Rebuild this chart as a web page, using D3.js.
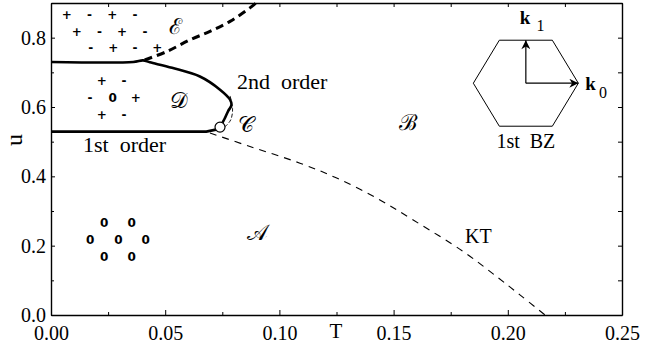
<!DOCTYPE html>
<html>
<head>
<meta charset="utf-8">
<script src="https://cdn.jsdelivr.net/npm/d3@7"></script>
<style>
  body { margin: 0; background: #fff; }
  svg { display: block; }
  .axis text { font-family: "Liberation Serif", serif; font-size: 20px; fill: #000; }
  .axis path, .axis line { stroke: #000; }
</style>
</head>
<body>
<div id="chart"></div>
<script>
// axis ticks
const xTicks = [0, 0.05, 0.10, 0.15, 0.20, 0.25];
const xMinorTicks = [0.025, 0.075, 0.125, 0.175, 0.225];
const yTicks = [0.0, 0.2, 0.4, 0.6, 0.8];
const yMinorTicks = [0.1, 0.3, 0.5, 0.7];

// phase boundaries (T, u)
const firstOrderLower = [[0, 0.529], [0.068, 0.529], [0.0722, 0.535]];
const firstOrderUpper = [[0, 0.730], [0.036, 0.730], [0.0403, 0.7345], [0.0433, 0.729],
  [0.0530, 0.713], [0.0652, 0.688], [0.0740, 0.650], [0.0784, 0.621], [0.0790, 0.605],
  [0.0776, 0.589], [0.0760, 0.566], [0.0740, 0.542]];
const noseDashed = [[0.0784, 0.632], [0.0795, 0.595], [0.0787, 0.563], [0.0762, 0.543]];
const ktLine = [[0.0696, 0.525], [0.0871, 0.486], [0.1090, 0.438], [0.1251, 0.395],
  [0.1426, 0.337], [0.1586, 0.274], [0.1805, 0.183], [0.1951, 0.111], [0.2053, 0.058],
  [0.2163, 0.0]];
const eBoundary = [[0.0410, 0.736], [0.0507, 0.760], [0.0609, 0.794], [0.0696, 0.818],
  [0.0784, 0.847], [0.0871, 0.886], [0.0898, 0.900]];
const criticalPoint = [0.074, 0.542];

// region labels
const regionLabels = [
  { t: 0.0547, u: 0.832, text: 'ℰ' },
  { t: 0.0560, u: 0.618, text: '𝒟' },
  { t: 0.0854, u: 0.549, text: '𝒞' },
  { t: 0.1563, u: 0.555, text: 'ℬ' },
  { t: 0.0902, u: 0.240, text: '𝒜' }
];
const lineLabels = [
  { t: 0.0814, u: 0.653, text: '2nd\u00a0\u00a0order' },
  { t: 0.0140, u: 0.471, text: '1st\u00a0\u00a0order' },
  { t: 0.1813, u: 0.208, text: 'KT' }
];

// order-parameter patterns
const patternE = [
  [0.0069, 0.866, '+'], [0.0168, 0.866, '-'], [0.0268, 0.866, '+'], [0.0368, 0.866, '-'],
  [0.0113, 0.818, '+'], [0.0212, 0.818, '-'], [0.0311, 0.818, '+'], [0.0412, 0.818, '-'],
  [0.0174, 0.770, '-'], [0.0273, 0.770, '+'], [0.0368, 0.770, '-'], [0.0465, 0.770, '+']
];
const patternD = [
  [0.0222, 0.676, '+'], [0.0320, 0.676, '-'],
  [0.0171, 0.626, '-'], [0.0270, 0.626, '0'], [0.0371, 0.626, '+'],
  [0.0222, 0.578, '+'], [0.0320, 0.578, '-']
];
const patternA = [
  [0.0233, 0.267, '0'], [0.0353, 0.267, '0'],
  [0.0171, 0.217, '0'], [0.0295, 0.217, '0'], [0.0415, 0.217, '0'],
  [0.0233, 0.168, '0'], [0.0353, 0.168, '0']
];

// Brillouin zone inset centre (T, u)
const bzCenter = [0.2079, 0.6686];

const width = 664, height = 351;
const margin = { top: 3, right: 42, bottom: 36, left: 51 };

const svg = d3.select('#chart').append('svg')
  .attr('width', width)
  .attr('height', height);

const x = d3.scaleLinear().domain([0, 0.25]).range([margin.left, width - margin.right]);
const y = d3.scaleLinear().domain([0, 0.9]).range([height - margin.bottom, margin.top]);

const serif = '"Liberation Serif", serif';

// axes, ticks pointing inward
svg.append('g').attr('class', 'axis')
  .attr('transform', 'translate(0,' + y(0) + ')')
  .call(d3.axisBottom(x).tickValues(xTicks).tickSize(-5).tickSizeOuter(0).tickPadding(11).tickFormat(d3.format('.2f')))
  .call(g => g.select('.domain').attr('stroke-width', 1.6));
svg.append('g').attr('class', 'axis')
  .attr('transform', 'translate(0,' + y(0) + ')')
  .call(d3.axisBottom(x).tickValues(xMinorTicks).tickSize(-3).tickSizeOuter(0).tickFormat(''));

svg.append('g').attr('class', 'axis')
  .attr('transform', 'translate(' + x(0) + ',0)')
  .call(d3.axisLeft(y).tickValues(yTicks).tickSize(-4).tickSizeOuter(0).tickPadding(5).tickFormat(d3.format('.1f')))
  .call(g => g.select('.domain').attr('stroke-width', 1.4));
svg.append('g').attr('class', 'axis')
  .attr('transform', 'translate(' + x(0) + ',0)')
  .call(d3.axisLeft(y).tickValues(yMinorTicks).tickSize(-3).tickSizeOuter(0).tickFormat(''));

svg.append('g').attr('class', 'axis')
  .attr('transform', 'translate(0,' + y(0.9) + ')')
  .call(d3.axisTop(x).tickValues(xTicks.concat(xMinorTicks)).tickSize(-4).tickSizeOuter(0).tickFormat(''))
  .call(g => g.select('.domain').attr('stroke-width', 1.4));

svg.append('g').attr('class', 'axis')
  .attr('transform', 'translate(' + x(0.25) + ',0)')
  .call(d3.axisRight(y).tickValues(yTicks.concat(yMinorTicks)).tickSize(-4).tickSizeOuter(0).tickFormat(''))
  .call(g => g.select('.domain').attr('stroke-width', 1.4));

// axis titles
svg.append('text')
  .attr('x', 336).attr('y', 338)
  .attr('text-anchor', 'middle')
  .attr('font-family', serif).attr('font-size', 21)
  .text('T');
svg.append('text')
  .attr('transform', 'translate(22,140) rotate(-90)')
  .attr('text-anchor', 'middle')
  .attr('font-family', serif).attr('font-size', 24)
  .text('u');

const line = d3.line().x(d => x(d[0])).y(d => y(d[1]));
const smooth = d3.line().x(d => x(d[0])).y(d => y(d[1])).curve(d3.curveCatmullRom.alpha(0.5));

svg.append('path').datum(ktLine)
  .attr('d', smooth).attr('fill', 'none').attr('stroke', '#000')
  .attr('stroke-width', 1.1).attr('stroke-dasharray', '7,6');

svg.append('path').datum(eBoundary)
  .attr('d', smooth).attr('fill', 'none').attr('stroke', '#000')
  .attr('stroke-width', 3).attr('stroke-dasharray', '8,5');

svg.append('path').datum(noseDashed)
  .attr('d', smooth).attr('fill', 'none').attr('stroke', '#000')
  .attr('stroke-width', 0.9).attr('stroke-dasharray', '4,2');

svg.append('path').datum(firstOrderLower)
  .attr('d', line).attr('fill', 'none').attr('stroke', '#000')
  .attr('stroke-width', 2.8);

svg.append('path').datum(firstOrderUpper)
  .attr('d', smooth).attr('fill', 'none').attr('stroke', '#000')
  .attr('stroke-width', 2.6).attr('stroke-linejoin', 'round');

svg.append('circle')
  .attr('cx', x(criticalPoint[0])).attr('cy', y(criticalPoint[1]))
  .attr('r', 5).attr('fill', '#fff').attr('stroke', '#000').attr('stroke-width', 1.2);

// region labels
svg.selectAll('.region')
  .data(regionLabels)
  .enter().append('text')
  .attr('class', 'region')
  .attr('x', d => x(d.t)).attr('y', d => y(d.u))
  .attr('dy', '0.35em')
  .attr('text-anchor', 'middle')
  .attr('font-family', '"DejaVu Serif", "Liberation Serif", serif')
  .attr('font-size', 22)
  .text(d => d.text);

svg.selectAll('.linelabel')
  .data(lineLabels)
  .enter().append('text')
  .attr('class', 'linelabel')
  .attr('x', d => x(d.t)).attr('y', d => y(d.u))
  .attr('font-family', serif)
  .attr('font-size', d => d.text === 'KT' ? 20 : 22)
  .text(d => d.text);

// patterns
svg.selectAll('.sym')
  .data(patternE.concat(patternD, patternA))
  .enter().append('text')
  .attr('class', 'sym')
  .attr('x', d => x(d[0])).attr('y', d => y(d[1]))
  .attr('dy', '0.35em')
  .attr('text-anchor', 'middle')
  .attr('font-family', '"DejaVu Sans", sans-serif')
  .attr('font-weight', 'bold')
  .attr('font-size', 12)
  .text(d => d[2]);

// Brillouin zone inset
const cx = x(bzCenter[0]), cy = y(bzCenter[1]);
const rx = 52.5, ry = 43, half = 26.5;
const hex = [[-rx, 0], [-half, -ry], [half, -ry], [rx, 0], [half, ry], [-half, ry]];
svg.append('polygon')
  .attr('points', hex.map(p => (cx + p[0]) + ',' + (cy + p[1])).join(' '))
  .attr('fill', 'none').attr('stroke', '#000').attr('stroke-width', 1);

svg.append('defs').append('marker')
  .attr('id', 'arrow').attr('viewBox', '0 0 10 10')
  .attr('refX', 10).attr('refY', 5)
  .attr('markerWidth', 11).attr('markerHeight', 9)
  .attr('markerUnits', 'userSpaceOnUse')
  .attr('orient', 'auto')
  .append('path').attr('d', 'M0,0 L10,5 L0,10 L3,5 Z').attr('fill', '#000');

svg.append('line')
  .attr('x1', cx).attr('y1', cy).attr('x2', cx).attr('y2', cy - ry)
  .attr('stroke', '#000').attr('stroke-width', 1.2).attr('marker-end', 'url(#arrow)');
svg.append('line')
  .attr('x1', cx).attr('y1', cy).attr('x2', cx + rx).attr('y2', cy)
  .attr('stroke', '#000').attr('stroke-width', 1.2).attr('marker-end', 'url(#arrow)');

const k1 = svg.append('text').attr('x', cx - 6).attr('y', cy - ry - 16)
  .attr('font-family', serif).attr('font-size', 19);
k1.append('tspan').attr('font-weight', 'bold').text('k');
k1.append('tspan').attr('dx', 6).attr('dy', 7).attr('font-size', 16).text('1');

const k0 = svg.append('text').attr('x', cx + rx + 7).attr('y', cy + 7)
  .attr('font-family', serif).attr('font-size', 19);
k0.append('tspan').attr('font-weight', 'bold').text('k');
k0.append('tspan').attr('dx', 3).attr('dy', 8).attr('font-size', 16).text('0');

svg.append('text')
  .attr('x', cx).attr('y', cy + ry + 22)
  .attr('text-anchor', 'middle')
  .attr('font-family', serif).attr('font-size', 20)
  .text('1st\u00a0\u00a0BZ');
</script>
</body>
</html>
